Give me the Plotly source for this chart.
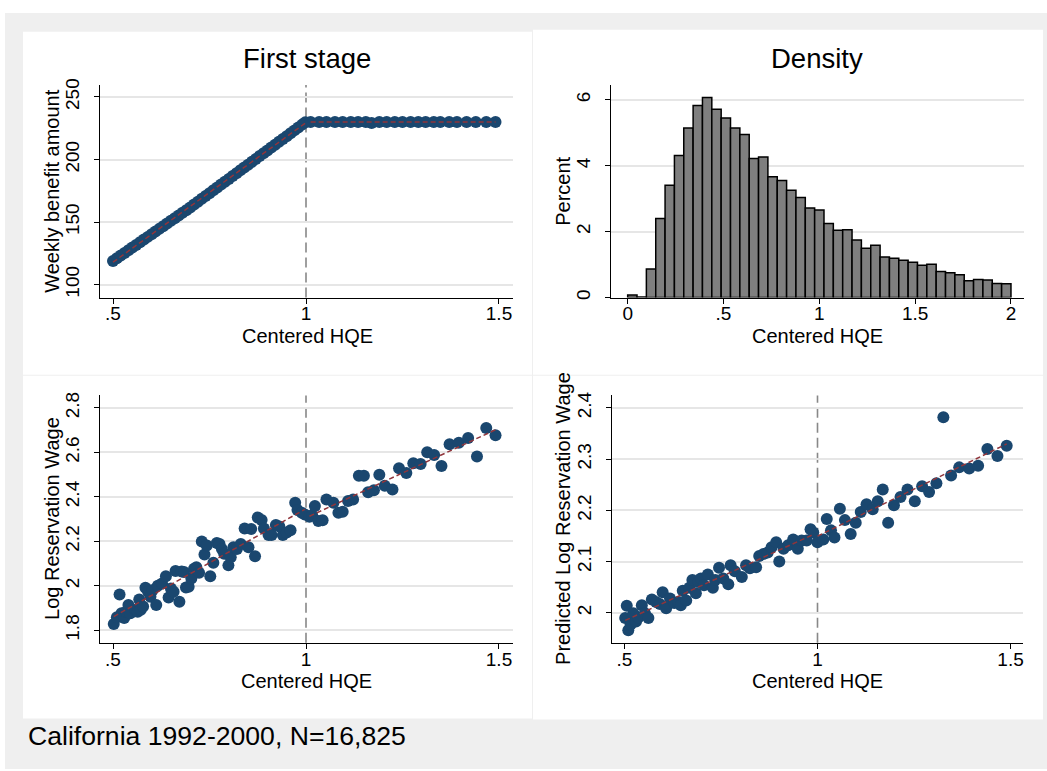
import numpy as np
import plotly.graph_objects as go

W, H = 1047, 771
FONT = "Liberation Sans"

# ---------------- data ----------------
cutoff = 1.0

# First stage: weekly benefit amount vs centered HQE
fs_x = [0.50, 0.51, 0.52, 0.53, 0.54, 0.55, 0.56, 0.57, 0.58, 0.59,
        0.60, 0.61, 0.62, 0.63, 0.64, 0.65, 0.66, 0.67, 0.68, 0.69,
        0.70, 0.71, 0.72, 0.73, 0.74, 0.75, 0.76, 0.77, 0.78, 0.79,
        0.80, 0.81, 0.82, 0.83, 0.84, 0.85, 0.86, 0.87, 0.88, 0.89,
        0.90, 0.91, 0.92, 0.93, 0.94, 0.95, 0.96, 0.97, 0.98, 0.99, 0.998,
        1.012, 1.034, 1.053, 1.075, 1.095, 1.116, 1.135, 1.155, 1.170, 1.190,
        1.209, 1.230, 1.250, 1.271, 1.291, 1.310, 1.331, 1.348, 1.371, 1.391,
        1.416, 1.440, 1.467, 1.491]
fs_y = [119.0, 121.1, 123.3, 125.4, 127.5, 129.7, 131.8, 133.9, 136.1, 138.2,
        140.3, 142.5, 144.6, 146.7, 148.9, 151.0, 153.1, 155.3, 157.4, 159.5,
        161.7, 164.0, 166.3, 168.6, 170.9, 173.1, 175.4, 177.7, 180.0, 182.3,
        184.5, 186.8, 189.1, 191.4, 193.7, 195.9, 198.2, 200.5, 202.8, 205.1,
        207.3, 209.6, 211.9, 214.2, 216.5, 218.7, 221.0, 223.3, 225.6, 227.9, 229.7,
        230.0, 230.0, 230.0, 230.0, 230.0, 230.0, 230.0, 230.0, 229.2, 230.0,
        230.0, 230.0, 230.0, 230.0, 230.0, 230.0, 230.0, 230.0, 230.0, 230.0,
        230.0, 230.0, 230.0, 230.0]

# Density histogram (percent per bin), bins span 0..2
hist_start, hist_end = 0.0, 2.0
hist_pct = [0.08, 0.02, 0.87, 2.40, 3.41, 4.31, 5.15, 5.83, 6.07, 5.72,
            5.45, 5.15, 4.95, 4.22, 4.27, 3.67, 3.55, 3.26, 3.04, 2.72,
            2.66, 2.25, 2.04, 2.06, 1.75, 1.50, 1.59, 1.23, 1.19, 1.13,
            1.07, 0.98, 1.01, 0.79, 0.75, 0.69, 0.51, 0.55, 0.53, 0.43, 0.42]

# Log reservation wage
lrw_x = [0.502, 0.510, 0.517, 0.522, 0.529, 0.534, 0.540, 0.545, 0.558, 0.564,
         0.568, 0.572, 0.578, 0.584, 0.591, 0.597, 0.603, 0.612, 0.616, 0.627,
         0.637, 0.644, 0.650, 0.657, 0.662, 0.672, 0.678, 0.684, 0.689, 0.696,
         0.703, 0.710, 0.716, 0.723, 0.730, 0.737, 0.743, 0.752, 0.760, 0.769,
         0.776, 0.782, 0.788, 0.799, 0.805, 0.812, 0.821, 0.831, 0.841, 0.851,
         0.858, 0.868, 0.875, 0.885, 0.891, 0.903, 0.911, 0.922, 0.931, 0.940,
         0.950, 0.960, 0.972, 0.978, 0.989, 0.997,
         1.009, 1.016, 1.023, 1.032, 1.043, 1.053, 1.071, 1.084, 1.095, 1.109,
         1.122, 1.137, 1.150, 1.161, 1.176, 1.190, 1.204, 1.224, 1.241, 1.260,
         1.278, 1.297, 1.314, 1.332, 1.351, 1.372, 1.396, 1.420, 1.443, 1.467, 1.491]
lrw_y = [1.828, 1.859, 1.961, 1.877, 1.855, 1.884, 1.914, 1.877, 1.892, 1.884,
         1.939, 1.892, 1.907, 1.991, 1.973, 1.951, 1.981, 1.914, 2.000, 2.010,
         2.043, 1.948, 1.988, 1.973, 2.067, 1.929, 2.065, 2.062, 1.993, 1.996,
         2.033, 2.077, 2.084, 2.059, 2.199, 2.141, 2.181, 2.043, 2.104, 2.193,
         2.188, 2.166, 2.144, 2.092, 2.129, 2.173, 2.166, 2.188, 2.258, 2.173,
         2.255, 2.133, 2.307, 2.296, 2.258, 2.228, 2.228, 2.273, 2.267, 2.228,
         2.240, 2.250, 2.373, 2.341, 2.329, 2.321,
         2.311, 2.317, 2.359, 2.292, 2.295, 2.388, 2.373, 2.329, 2.333, 2.381,
         2.388, 2.495, 2.495, 2.421, 2.430, 2.499, 2.450, 2.433, 2.529, 2.507,
         2.551, 2.548, 2.600, 2.588, 2.539, 2.636, 2.643, 2.665, 2.581, 2.710, 2.677]

# Predicted log reservation wage
plrw_x = [0.502, 0.506, 0.510, 0.516, 0.523, 0.530, 0.536, 0.545, 0.553, 0.562,
          0.571, 0.582, 0.592, 0.599, 0.608, 0.618, 0.629, 0.640, 0.646, 0.651,
          0.660, 0.668, 0.676, 0.685, 0.692, 0.698, 0.706, 0.716, 0.729, 0.735,
          0.745, 0.756, 0.769, 0.775, 0.786, 0.804, 0.815, 0.825, 0.841, 0.849,
          0.860, 0.871, 0.881, 0.893, 0.901, 0.912, 0.924, 0.937, 0.949, 0.959,
          0.972, 0.982, 0.989,
          1.000, 1.015, 1.024, 1.035, 1.044, 1.058, 1.071, 1.086, 1.099, 1.112,
          1.127, 1.143, 1.156, 1.169, 1.183, 1.198, 1.215, 1.233, 1.252, 1.271,
          1.289, 1.308, 1.326, 1.346, 1.367, 1.393, 1.416, 1.440, 1.466, 1.490]
plrw_y = [1.990, 2.014, 1.966, 1.977, 1.999, 1.983, 1.991, 2.015, 1.999, 1.990,
          2.026, 2.021, 2.017, 2.040, 2.009, 2.028, 2.019, 2.021, 2.015, 2.043,
          2.024, 2.049, 2.064, 2.038, 2.060, 2.067, 2.054, 2.075, 2.049, 2.064,
          2.088, 2.067, 2.056, 2.093, 2.081, 2.070, 2.093, 2.087, 2.089, 2.111,
          2.115, 2.118, 2.128, 2.138, 2.100, 2.125, 2.132, 2.143, 2.125, 2.141,
          2.141, 2.163, 2.157,
          2.138, 2.143, 2.183, 2.161, 2.147, 2.203, 2.181, 2.154, 2.176, 2.197,
          2.212, 2.202, 2.218, 2.241, 2.176, 2.210, 2.226, 2.241, 2.218, 2.247,
          2.236, 2.253, 2.382, 2.268, 2.284, 2.282, 2.287, 2.320, 2.306, 2.326]

# Tick values / labels
hqe_ticks = [0.5, 1.0, 1.5]
hqe_labels = [".5", "1", "1.5"]
dens_xticks = [0, 0.5, 1, 1.5, 2]
dens_xlabels = ["0", ".5", "1", "1.5", "2"]
fs_yticks = [100, 150, 200, 250]
dens_yticks = [0, 2, 4, 6]
lrw_yticks = [1.8, 2.0, 2.2, 2.4, 2.6, 2.8]
lrw_ylabels = ["1.8", "2", "2.2", "2.4", "2.6", "2.8"]
plrw_yticks = [2.0, 2.1, 2.2, 2.3, 2.4]
plrw_ylabels = ["2", "2.1", "2.2", "2.3", "2.4"]

# ---------------- styling ----------------
NAVY = "#1a476f"
MAROON = "#90353b"
GRID = "#e6e6e6"
BG = "#efefef"


def px(x):
    return x / W


def py(y):
    return 1 - y / H


fig = go.Figure()

# background & panels (added first so they sit underneath everything)
shapes_bg = [
    dict(x0=5, y0=6, x1=W, y1=H, color=BG),
    dict(x0=23, y0=25, x1=532, y1=372, color="white"),
    dict(x0=533, y0=23, x1=1043, y1=372, color="white"),
    dict(x0=23, y0=373, x1=532, y1=720, color="white"),
    dict(x0=533, y0=373, x1=1043, y1=721, color="white"),
]
for s in shapes_bg:
    fig.add_shape(type="rect", xref="paper", yref="paper",
                  x0=px(s["x0"]), x1=px(s["x1"]), y0=py(s["y1"]), y1=py(s["y0"]),
                  fillcolor=s["color"], line=dict(width=0), layer="below")


def side_fit(xs, ys, xa, ya):
    xs = np.asarray(xs)
    ys = np.asarray(ys)
    for mask in (xs < cutoff, xs >= cutoff):
        sx, sy = xs[mask], ys[mask]
        b, a = np.polyfit(sx, sy, 1)
        xx = np.array([sx.min(), sx.max()])
        fig.add_trace(go.Scatter(x=xx, y=a + b * xx, mode="lines", xaxis=xa, yaxis=ya,
                                 line=dict(color=MAROON, width=1.5, dash="5px,3px"),
                                 hoverinfo="skip", showlegend=False))


def scatter(xs, ys, xa, ya, size=10):
    fig.add_trace(go.Scatter(x=xs, y=ys, mode="markers", xaxis=xa, yaxis=ya,
                             marker=dict(color=NAVY, size=size, line=dict(width=0)),
                             showlegend=False))


# Panel 1: first stage
scatter(fs_x, fs_y, "x", "y", size=12)
side_fit(fs_x, fs_y, "x", "y")

# Panel 2: histogram
nb = len(hist_pct)
bw = (hist_end - hist_start) / nb
centers = [hist_start + bw * (i + 0.5) for i in range(nb)]
fig.add_trace(go.Bar(x=centers, y=hist_pct, width=bw, xaxis="x2", yaxis="y2",
                     marker=dict(color="#7f7f7f", line=dict(color="black", width=1.5)),
                     showlegend=False))

# Panel 3
scatter(lrw_x, lrw_y, "x3", "y3", size=12)
side_fit(lrw_x, lrw_y, "x3", "y3")

# Panel 4
scatter(plrw_x, plrw_y, "x4", "y4", size=12)
side_fit(plrw_x, plrw_y, "x4", "y4")

# cutoff lines
for xr, yr in (("x", "y domain"), ("x3", "y3 domain"), ("x4", "y4 domain")):
    fig.add_shape(type="line", xref=xr, yref=yr, x0=cutoff, x1=cutoff, y0=0, y1=1,
                  line=dict(color="#888888", width=1.6, dash="10px,5px"), layer="below")

tickfont = dict(family=FONT, size=19, color="black")


def xax(domain, rng, tv, tt, anchor):
    return dict(domain=domain, range=rng, anchor=anchor, tickvals=tv, ticktext=tt,
                showline=True, linecolor="black", linewidth=1, ticks="outside",
                ticklen=5, tickcolor="black", tickwidth=1, showgrid=False,
                zeroline=False, tickfont=tickfont, ticklabelstandoff=-6, fixedrange=True)


def yax(domain, rng, tv, tt, anchor):
    return dict(domain=domain, range=rng, anchor=anchor, tickvals=tv, ticktext=tt,
                showline=True, linecolor="black", linewidth=1, ticks="outside",
                ticklen=5, tickcolor="black", tickwidth=1, showgrid=True,
                gridcolor=GRID, gridwidth=1.5, zeroline=False, tickangle=-90,
                tickfont=tickfont, ticklabelstandoff=7, fixedrange=True)


top_y = [py(294), py(79)]
bot_y = [py(643.3), py(393)]

fig.update_layout(
    width=W, height=H, margin=dict(l=0, r=0, t=0, b=0),
    paper_bgcolor="white", plot_bgcolor="rgba(0,0,0,0)",
    font=dict(family=FONT, color="black"),
    showlegend=False,
    xaxis=xax([px(100), px(513)], [0.4663, 1.5363], hqe_ticks, hqe_labels, "y"),
    yaxis=yax(top_y, [89.7, 259.5], fs_yticks, [str(v) for v in fs_yticks], "x"),
    xaxis2=xax([px(611), px(1024)], [-0.087, 2.068], dens_xticks, dens_xlabels, "y2"),
    yaxis2=yax(top_y, [0, 6.45], dens_yticks, [str(v) for v in dens_yticks], "x2"),
    xaxis3=xax([px(100), px(513)], [0.4663, 1.5363], hqe_ticks, hqe_labels, "y3"),
    yaxis3=yax(bot_y, [1.744, 2.856], lrw_yticks, lrw_ylabels, "x3"),
    xaxis4=xax([px(611.7), px(1023.3)], [0.467, 1.533], hqe_ticks, hqe_labels, "y4"),
    yaxis4=yax(bot_y, [1.9415, 2.4245], plrw_yticks, plrw_ylabels, "x4"),
)

annos = [
    ("First stage", 307, 52, 27.5, 0),
    ("Density", 817, 52, 27.5, 0),
    ("Centered HQE", 307, 333, 20, 0),
    ("Centered HQE", 817, 333, 20, 0),
    ("Centered HQE", 306, 682, 20, 0),
    ("Centered HQE", 817, 682, 20, 0),
    ("Weekly benefit amount", 52, 186, 20, -90),
    ("Percent", 563, 187, 20, -90),
    ("Log Reservation Wage", 52, 518, 20, -90),
    ("Predicted Log Reservation Wage", 563, 518, 20, -90),
]
for text, x, y, size, ang in annos:
    fig.add_annotation(text=text, x=px(x), y=py(y), xref="paper", yref="paper",
                       xanchor="center", yanchor="middle", showarrow=False, textangle=ang,
                       font=dict(family=FONT, size=size, color="black"))

fig.add_annotation(text="California 1992-2000, N=16,825", x=px(26), y=py(738),
                   xref="paper", yref="paper", xanchor="left", yanchor="middle",
                   showarrow=False, font=dict(family=FONT, size=26.6, color="black"))

fig.write_html("out.html")
